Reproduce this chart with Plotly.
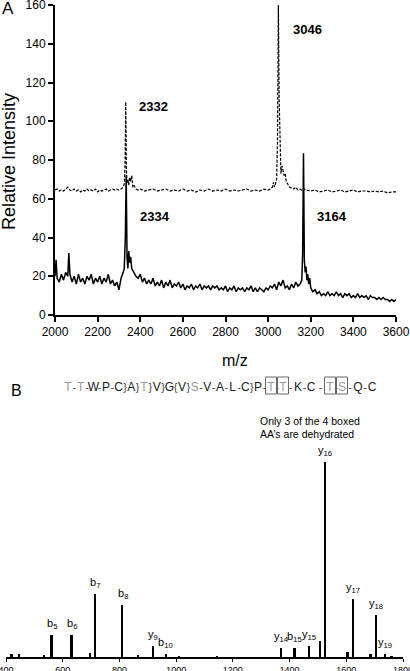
import plotly.graph_objects as go

# ---------------- Panel A data (MALDI spectra) ----------------
mz_solid = [2000, 2005, 2010, 2020, 2030, 2040, 2050, 2060, 2065, 2070, 2080, 2090, 2100, 2110, 2120, 2130,
            2140, 2150, 2160, 2170, 2180, 2190, 2200, 2210, 2220, 2230, 2240, 2250, 2260, 2270, 2280, 2290,
            2300, 2310, 2320, 2325, 2330, 2334, 2338, 2342, 2346, 2350, 2355, 2360, 2370, 2380, 2390, 2400,
            2410, 2420, 2430, 2440, 2450, 2460, 2470, 2480, 2490, 2500, 2510, 2520, 2530, 2540, 2550, 2560,
            2570, 2580, 2590, 2600, 2610, 2620, 2630, 2640, 2650, 2660, 2670, 2680, 2690, 2700, 2710, 2720,
            2730, 2740, 2750, 2760, 2770, 2780, 2790, 2800, 2810, 2820, 2830, 2840, 2850, 2860, 2870, 2880,
            2890, 2900, 2910, 2920, 2930, 2940, 2950, 2960, 2970, 2980, 2990, 3000, 3010, 3020, 3030, 3040,
            3050, 3060, 3070, 3080, 3090, 3100, 3110, 3120, 3130, 3140, 3150, 3158, 3162, 3166, 3170, 3174,
            3178, 3182, 3186, 3190, 3195, 3200, 3210, 3220, 3230, 3240, 3250, 3260, 3270, 3280, 3290, 3300,
            3310, 3320, 3330, 3340, 3350, 3360, 3370, 3380, 3390, 3400, 3410, 3420, 3430, 3440, 3450, 3460,
            3470, 3480, 3490, 3500, 3510, 3520, 3530, 3540, 3550, 3560, 3570, 3580, 3590, 3600]
int_solid = [20, 28.5, 19, 17, 21, 18, 22, 20, 32, 21, 17, 20, 16, 21, 17, 19,
             16, 20, 18, 21, 16, 19, 17, 20, 16, 19, 17, 21, 16, 18, 15, 17,
             13, 19, 22, 24, 40, 72, 30, 24, 33, 27, 30, 24, 22, 20, 19, 21,
             17, 19, 16, 18, 16, 19, 15, 17, 15, 18, 14, 17, 15, 18, 14, 16,
             15, 17, 14, 16, 13, 15, 14, 16, 13, 15, 14, 16, 13, 15, 14, 15,
             13, 15, 14, 15, 13, 14, 13, 15, 12, 14, 13, 15, 12, 14, 13, 14,
             12, 14, 13, 15, 12, 14, 12, 14, 13, 12, 14, 13, 15, 14, 16, 13,
             17, 15, 18, 14, 15, 13, 16, 14, 17, 15, 16, 18, 32, 83.5, 28, 22,
             25, 18, 21, 16, 19, 14, 12, 13, 11, 12, 10, 11, 10, 12, 10, 11,
             10, 12, 10, 11, 9, 11, 10, 11, 9, 10, 9, 11, 9, 10, 9, 10,
             8, 10, 9, 9, 8, 9, 8, 9, 8, 8, 7, 8, 7, 8]

mz_dashed = [2000, 2010, 2020, 2030, 2040, 2050, 2060, 2070, 2080, 2090, 2100, 2110, 2120, 2130, 2140, 2150,
             2160, 2170, 2180, 2190, 2200, 2210, 2220, 2230, 2240, 2250, 2260, 2270, 2280, 2290, 2300, 2310,
             2320, 2326, 2329, 2332, 2335, 2338, 2342, 2346, 2350, 2355, 2360, 2365, 2370, 2380, 2390, 2400,
             2420, 2440, 2460, 2480, 2500, 2520, 2540, 2560, 2580, 2600, 2620, 2640, 2660, 2680, 2700, 2720,
             2740, 2760, 2780, 2800, 2820, 2840, 2860, 2880, 2900, 2920, 2940, 2960, 2980, 3000, 3010, 3020,
             3025, 3030, 3035, 3040, 3044, 3048, 3052, 3056, 3060, 3065, 3070, 3075, 3080, 3085, 3090, 3100,
             3110, 3120, 3130, 3140, 3150, 3160, 3170, 3180, 3200, 3220, 3240, 3260, 3280, 3300, 3320, 3340,
             3360, 3380, 3400, 3420, 3440, 3460, 3480, 3500, 3520, 3540, 3560, 3580, 3600]
int_dashed = [64.5, 65, 64, 64.5, 64, 65, 66, 64.5, 64, 65, 64, 64.5, 63.5, 64.5, 64, 65,
              64, 64.5, 64, 65, 63.5, 64.5, 64, 64.5, 65, 64, 64.5, 65, 64.5, 65, 64.5, 65,
              66, 68, 80, 110, 75, 68, 70, 67, 71, 69, 72, 66, 67, 65, 64.5, 65,
              64, 64.5, 65, 64, 64.5, 65, 64, 64.5, 64, 65, 64, 64.5, 63.5, 64.5, 64, 65,
              64, 64.5, 64, 65, 64, 64.5, 64, 64.5, 65, 64, 64.5, 64, 65, 64.5, 65, 66,
              68.5, 66, 69, 70, 90, 160, 110, 78, 73, 77, 75, 72, 73, 69, 68, 66,
              65.5, 65, 66, 64.5, 65, 64, 65, 64.5, 64, 64.5, 63.5, 64, 64.5, 63.5, 64, 64.5,
              63.5, 64, 64.5, 63.5, 64, 64, 63.5, 64, 63.5, 64, 63, 63.5, 63.5]

peak_labels_a = ["2332", "3046", "2334", "3164"]

# ---------------- Panel B data (MS/MS fragment ions) ----------------
ion_names = ["b<sub>5</sub>", "b<sub>6</sub>", "b<sub>7</sub>", "b<sub>8</sub>", "y<sub>9</sub>",
             "b<sub>10</sub>", "y<sub>14</sub>", "b<sub>15</sub>", "y<sub>15</sub>", "y<sub>16</sub>",
             "y<sub>17</sub>", "y<sub>18</sub>", "y<sub>19</sub>"]
ion_mz = [561, 632, 714, 811, 918, 964, 1370, 1418, 1468, 1525, 1624, 1705, 1736]
ion_int = [11.5, 11.3, 32.5, 26.5, 5.6, 1.7, 4.8, 4.8, 5.5, 100, 30, 21.4, 1.4]
minor_mz = [420, 447, 535, 696, 866, 1010, 1145, 1507, 1605, 1686, 1760]
minor_int = [1.5, 1.5, 0.7, 2.2, 0.6, 0.4, 0.4, 8.2, 2.6, 1.3, 0.4]

seq_letters = list("TTWPCATVGVSVALCPTTKCTSQC")
seq_seps = ["-", "-", "-", "-", "}", "}", "}", "}", "{", "}", "-", "-", "-", "-", "}",
            "-", "-", "-", "-", "-", "-", "-", "-"]
seq_gray = [0, 1, 6, 10, 16, 17, 20, 21]
seq_boxed = [16, 17, 20, 21]

W, H = 410, 671
def px(x):
    return x / W
def py(y):
    return 1 - y / H

FONT = "Liberation Sans, Arial, sans-serif"
SEQFONT = "Liberation Sans Narrow, Liberation Sans, Arial, sans-serif"

fig = go.Figure()
fig.add_trace(go.Scatter(x=mz_dashed, y=int_dashed, mode="lines",
                         line=dict(color="black", width=1.2, dash="3px,1.5px"),
                         xaxis="x", yaxis="y", hoverinfo="skip"))
fig.add_trace(go.Scatter(x=mz_solid, y=int_solid, mode="lines",
                         line=dict(color="black", width=1.5),
                         xaxis="x", yaxis="y", hoverinfo="skip"))
fig.add_trace(go.Bar(x=ion_mz + minor_mz, y=ion_int + minor_int, width=6,
                     marker=dict(color="black", line=dict(width=0)),
                     xaxis="x2", yaxis="y2", hoverinfo="skip"))

# Sequence drawn on an overlay axis measured in figure pixels
letter_x = [68 + i * 12.67 for i in range(16)] + [271, 283, 298, 311, 330, 342, 358, 372]
seq_y = 388
sep_x = [(letter_x[i] + letter_x[i + 1]) / 2 for i in range(len(seq_seps))]
letter_col = ["#9a9a9a" if i in seq_gray else "#1a1a1a" for i in range(len(seq_letters))]
fig.add_trace(go.Scatter(x=letter_x, y=[seq_y] * len(letter_x), mode="text", text=seq_letters,
                         textposition="middle center",
                         textfont=dict(family=SEQFONT, size=12, color=letter_col),
                         xaxis="x3", yaxis="y3", hoverinfo="skip", cliponaxis=False))
fig.add_trace(go.Scatter(x=sep_x, y=[seq_y] * len(sep_x), mode="text", text=seq_seps,
                         textposition="middle center",
                         textfont=dict(family=SEQFONT, size=11, color="#444444"),
                         xaxis="x3", yaxis="y3", hoverinfo="skip", cliponaxis=False))

annotations = []
# Panel A peak labels
label_pos_a = [(2463, 107.4), (3184, 147.6), (2468, 50.6), (3300, 50.6)]
for t, (lx, ly) in zip(peak_labels_a, label_pos_a):
    annotations.append(dict(x=lx, y=ly, xref="x", yref="y", text="<b>%s</b>" % t,
                            showarrow=False, xanchor="center", yanchor="middle",
                            font=dict(family=FONT, size=13, color="black")))

def paper_text(x, y, text, size, angle=0, xanchor="center"):
    return dict(x=px(x), y=py(y), xref="paper", yref="paper", text=text, textangle=angle,
                showarrow=False, xanchor=xanchor, yanchor="middle",
                font=dict(family=FONT, size=size, color="black"))

annotations.append(paper_text(235, 360, "m/z", 16))
annotations.append(paper_text(9, 162, "Relative Intensity", 18, angle=-90))
annotations.append(paper_text(8, 9, "A", 17))
annotations.append(paper_text(16, 390, "B", 16))
annotations.append(paper_text(258, 421, "Only 3 of the 4 boxed", 10.5, xanchor="left"))
annotations.append(paper_text(258, 434, "AA\u2019s are dehydrated", 10.5, xanchor="left"))

# Panel B ion labels
for name, m, v in zip(ion_names, ion_mz, ion_int):
    annotations.append(dict(x=m, y=v, xref="x2", yref="y2", text=name, showarrow=False,
                            xanchor="center", yanchor="bottom", yshift=2,
                            font=dict(family=FONT, size=11, color="black")))

shapes = []
for i in seq_boxed:
    cx = letter_x[i]
    shapes.append(dict(type="rect", xref="x3", yref="y3",
                       x0=cx - 5.5, x1=cx + 5.5, y0=377, y1=394,
                       line=dict(color="#666666", width=1)))

fig.update_layout(
    template="none",
    width=W, height=H,
    margin=dict(l=0, r=0, t=0, b=0, pad=0, autoexpand=False),
    paper_bgcolor="white", plot_bgcolor="rgba(0,0,0,0)",
    showlegend=False, bargap=0,
    font=dict(family=FONT, color="black"),
    xaxis=dict(domain=[px(55), px(396)], range=[2000, 3600], anchor="y", automargin=False,
               showline=True, linecolor="black", linewidth=2, ticks="outside", ticklen=5,
               tickwidth=1.5, tickcolor="black", tickvals=list(range(2000, 3601, 200)),
               tickfont=dict(family=FONT, size=12), showgrid=False, zeroline=False,
               ticklabeloverflow="allow"),
    yaxis=dict(domain=[py(315), py(5)], range=[0, 160], anchor="x", automargin=False,
               showline=True, linecolor="black", linewidth=2, ticks="outside", ticklen=5,
               tickwidth=1.5, tickcolor="black", tickvals=list(range(0, 161, 20)),
               tickfont=dict(family=FONT, size=12), showgrid=False, zeroline=False,
               ticklabeloverflow="allow"),
    xaxis2=dict(domain=[px(6), px(403)], range=[400, 1800], anchor="y2", automargin=False,
                showline=True, linecolor="black", linewidth=1.5, ticks="outside", ticklen=3,
                tickwidth=1, tickcolor="black", tickvals=list(range(400, 1801, 200)),
                tickfont=dict(family=FONT, size=9), showgrid=False, zeroline=False,
                ticklabeloverflow="allow"),
    yaxis2=dict(domain=[py(657), py(462)], range=[0, 100], anchor="x2", visible=False,
                automargin=False),
    xaxis3=dict(domain=[0, 1], range=[0, W], anchor="y3", visible=False, fixedrange=True,
                automargin=False),
    yaxis3=dict(domain=[0, 1], range=[H, 0], anchor="x3", visible=False, fixedrange=True,
                automargin=False),
    annotations=annotations,
    shapes=shapes,
)

fig.write_html("out.html",
               config={"displayModeBar": False},
               post_script="document.body.style.margin='0';document.body.style.padding='0';"
                           "document.body.style.overflow='hidden';")
